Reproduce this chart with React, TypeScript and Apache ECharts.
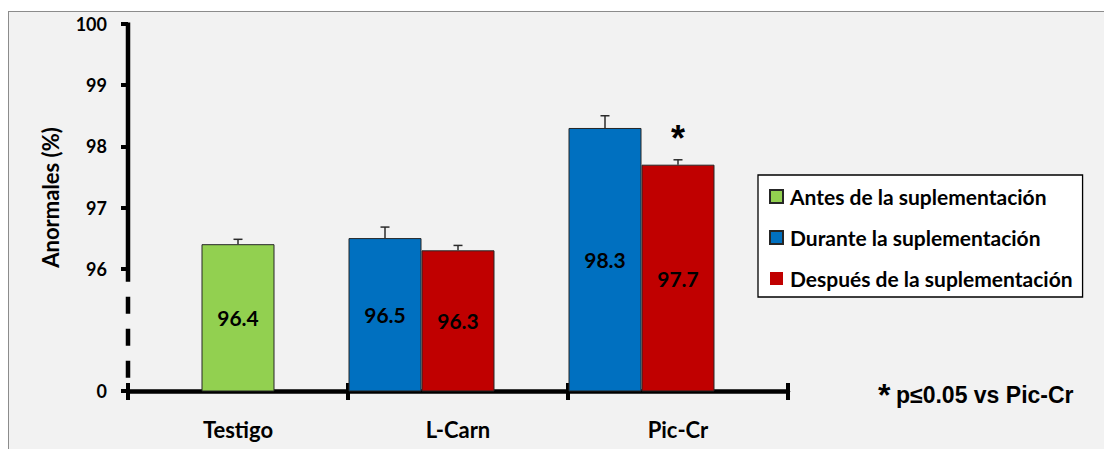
import React, { useEffect, useRef } from "react";
import * as echarts from "echarts";

const categories = ["Testigo", "L-Carn", "Pic-Cr"];
const seriesNames = [
  "Antes de la suplementación",
  "Durante la suplementación",
  "Después de la suplementación",
];
const antes = [96.4, null, null];
const antesErr = [0.08, null, null];
const durante = [null, 96.5, 98.3];
const duranteErr = [null, 0.18, 0.2];
const despues = [null, 96.3, 97.7];
const despuesErr = [null, 0.08, 0.08];
const despuesMarks = ["", "", "*"];
const yTickValues = [94, 96, 97, 98, 99, 100];
const yTickLabels = ["0", "96", "97", "98", "99", "100"];
const footnoteMark = "*";
const footnoteText = "p≤0.05 vs Pic-Cr";

const GREEN = "#92d050";
const BLUE = "#0070c0";
const RED = "#c00000";
const BAR_W = 73;
const GRID_LEFT = 119;
const FONT = "Lato, 'Noto Sans', sans-serif";
const ARIAL = "'Liberation Sans', Arial, sans-serif";

type Num = number | null;

function barData(vals: Num[]) {
  return vals.map((v) => (v == null ? "-" : v));
}

function errSeries(vals: Num[], errs: Num[], slot: number, marks?: string[]) {
  const data = vals
    .map((v, i) => (v == null ? null : [i, v, errs[i] as number]))
    .filter((d) => d != null);
  return {
    type: "custom",
    xAxisIndex: 1,
    yAxisIndex: 0,
    z: 5,
    silent: true,
    data,
    renderItem: (params: any, api: any) => {
      const c = api.value(0);
      const v = api.value(1);
      const e = api.value(2);
      const p0 = api.coord([c, v]);
      const p1 = api.coord([c, v + e]);
      const cx = p0[0] + slot * BAR_W;
      const st = { stroke: "#2b2b2b", lineWidth: 1.5 };
      const children: any[] = [
        { type: "line", shape: { x1: cx, y1: p0[1], x2: cx, y2: p1[1] }, style: st },
        { type: "line", shape: { x1: cx - 4.5, y1: p1[1], x2: cx + 4.5, y2: p1[1] }, style: st },
      ];
      if (marks && marks[c]) {
        children.push({
          type: "text",
          x: cx,
          y: p1[1] - 21,
          style: {
            text: marks[c],
            fontSize: 36,
            fontWeight: "bold",
            fontFamily: ARIAL,
            fill: "#000",
            align: "center",
            verticalAlign: "middle",
          },
        });
      }
      return { type: "group", children };
    },
  };
}

export default function App() {
  const ref = useRef<HTMLDivElement>(null);

  useEffect(() => {
    if (!ref.current) return;
    const chart = echarts.init(ref.current, null, { renderer: "svg" });
    const labelStyle = {
      show: true,
      position: "inside",
      color: "#000",
      fontFamily: FONT,
      fontWeight: "bold",
      fontSize: 21,
    };
    const border = { borderColor: "#262626", borderWidth: 1 };
    chart.setOption({
      animation: false,
      backgroundColor: "transparent",
      grid: { left: GRID_LEFT, right: 316, top: 12, bottom: 58 },
      legend: {
        orient: "vertical",
        left: 749,
        top: 163,
        padding: [11, 10, 8, 11],
        itemGap: 20,
        itemWidth: 13,
        itemHeight: 13,
        backgroundColor: "#ffffff",
        borderColor: "#000000",
        borderWidth: 1.3,
        borderRadius: 0,
        selectedMode: false,
        textStyle: {
          fontFamily: FONT,
          fontWeight: "bold",
          fontSize: 21,
          lineHeight: 20,
          color: "#000",
          padding: [0, 0, 0, 2],
        },
        data: [
          { name: seriesNames[0], icon: "rect" },
          { name: seriesNames[1], icon: "rect" },
          { name: seriesNames[2], icon: "rect", itemStyle: { borderWidth: 0 } },
        ],
      },
      xAxis: [
        {
          type: "category",
          data: categories,
          position: "bottom",
          axisLine: { show: true, onZero: false, lineStyle: { color: "#000", width: 4.5 } },
          axisTick: { show: true, length: 9, lineStyle: { color: "#000", width: 4 } },
          axisLabel: {
            margin: 27,
            color: "#000",
            fontFamily: FONT,
            fontWeight: "bold",
            fontSize: 22,
          },
          splitLine: { show: false },
        },
        {
          type: "category",
          data: categories,
          position: "bottom",
          axisLine: { show: false, onZero: false },
          axisTick: { show: true, inside: true, length: 8, lineStyle: { color: "#000", width: 4 } },
          axisLabel: { show: false },
          splitLine: { show: false },
        },
      ],
      yAxis: {
        type: "value",
        min: 94,
        max: 100,
        interval: 1,
        name: "Anormales (%)",
        nameLocation: "middle",
        nameRotate: 90,
        nameGap: 67,
        nameTextStyle: {
          color: "#000",
          fontFamily: FONT,
          fontWeight: "bold",
          fontSize: 22,
          padding: [0, 0, 0, 20],
        },
        axisLine: { show: false },
        axisTick: {
          show: true,
          length: 7,
          customValues: yTickValues,
          lineStyle: { color: "#000", width: 4 },
        },
        axisLabel: {
          customValues: yTickValues,
          margin: 21,
          color: "#000",
          fontFamily: FONT,
          fontWeight: "bold",
          fontSize: 18,
          formatter: (v: number) => {
            const i = yTickValues.indexOf(v);
            return i >= 0 ? yTickLabels[i] : "";
          },
        },
        splitLine: { show: false },
      },
      series: [
        {
          name: seriesNames[0],
          type: "bar",
          xAxisIndex: 0,
          barWidth: BAR_W,
          data: barData(antes),
          itemStyle: { color: GREEN, ...border },
          label: labelStyle,
        },
        {
          name: seriesNames[1],
          type: "bar",
          xAxisIndex: 1,
          barWidth: BAR_W,
          barGap: "0%",
          data: barData(durante),
          itemStyle: { color: BLUE, ...border },
          label: labelStyle,
        },
        {
          name: seriesNames[2],
          type: "bar",
          xAxisIndex: 1,
          barWidth: BAR_W,
          barGap: "0%",
          data: barData(despues),
          itemStyle: { color: RED, ...border },
          label: labelStyle,
        },
        {
          name: "_slot",
          type: "bar",
          xAxisIndex: 1,
          barWidth: BAR_W,
          barGap: "0%",
          data: [],
        },
        errSeries(antes, antesErr, 0),
        errSeries(durante, duranteErr, -1),
        errSeries(despues, despuesErr, 0, despuesMarks),
      ],
    });

    const y100 = chart.convertToPixel({ yAxisIndex: 0 }, 100) as number;
    const y96 = chart.convertToPixel({ yAxisIndex: 0 }, 96) as number;
    const y94 = chart.convertToPixel({ yAxisIndex: 0 }, 94) as number;
    chart.setOption({
      graphic: [
        {
          type: "line",
          z: 10,
          shape: { x1: GRID_LEFT, y1: y100 - 1.5, x2: GRID_LEFT, y2: y96 + 13 },
          style: { stroke: "#000", lineWidth: 4.5 },
        },
        {
          type: "line",
          z: 10,
          shape: { x1: GRID_LEFT, y1: y96 + 28, x2: GRID_LEFT, y2: y94 },
          style: { stroke: "#000", lineWidth: 4.5, lineDash: [17, 15] },
        },
        {
          type: "text",
          left: 869,
          top: 367,
          style: {
            text: footnoteMark,
            fontSize: 32,
            fontWeight: "bold",
            fontFamily: ARIAL,
            fill: "#000",
          },
        },
        {
          type: "text",
          left: 887,
          top: 371,
          style: {
            text: footnoteText,
            fontSize: 23,
            fontWeight: "bold",
            fontFamily: ARIAL,
            fill: "#000",
          },
        },
      ],
    });

    return () => chart.dispose();
  }, []);

  return (
    <div
      style={{
        position: "absolute",
        left: 8,
        top: 11,
        width: 1096,
        height: 438,
        boxSizing: "border-box",
        background: "#f2f2f2",
        borderTop: "1px solid #8c8c8c",
        borderLeft: "1px solid #8c8c8c",
      }}
    >
      <div ref={ref} style={{ position: "absolute", left: 0, top: 0, width: 1095, height: 437 }} />
    </div>
  );
}
